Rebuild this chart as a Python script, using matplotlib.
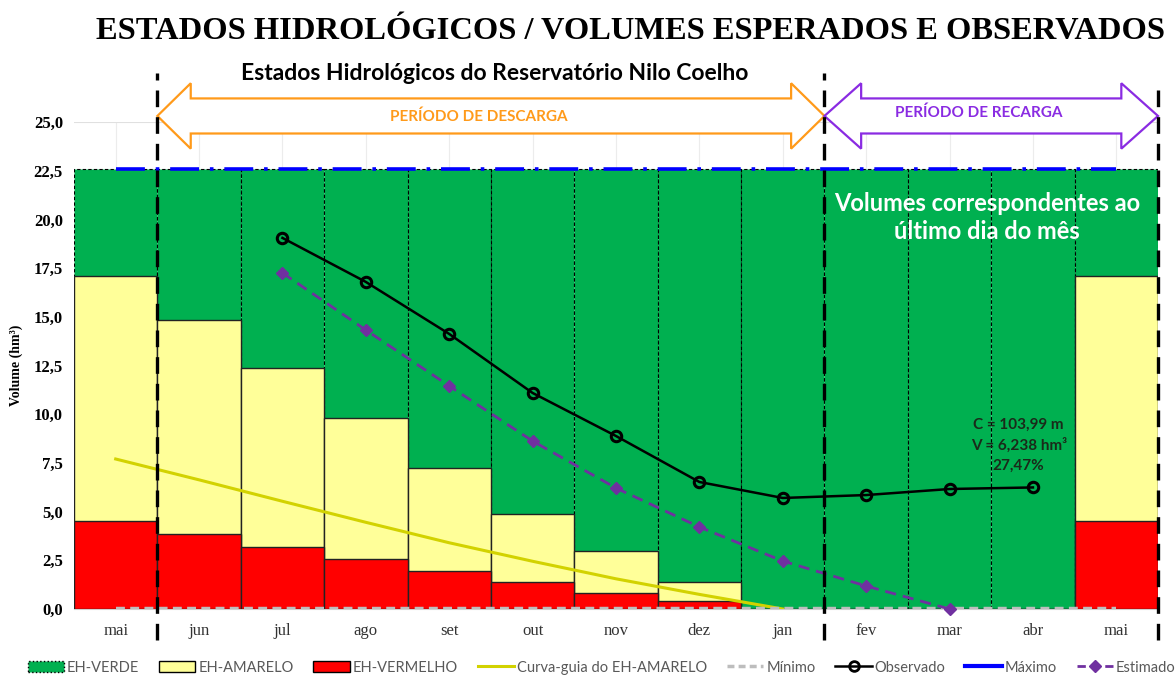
import matplotlib
matplotlib.use("Agg")
import matplotlib.pyplot as plt
import numpy as np
from matplotlib.patches import Polygon, Patch
from matplotlib.lines import Line2D
import matplotlib.transforms as mtransforms

# ---------------- data ----------------
months = ["mai", "jun", "jul", "ago", "set", "out", "nov", "dez", "jan", "fev", "mar", "abr", "mai"]
eh_verde = [22.6] * 13
eh_amarelo = [17.09, 14.84, 12.37, 9.80, 7.24, 4.88, 2.98, 1.39, 0.0, 0.0, 0.0, 0.0, 17.09]
eh_vermelho = [4.52, 3.85, 3.18, 2.57, 1.95, 1.39, 0.82, 0.41, 0.0, 0.0, 0.0, 0.0, 4.52]
curva_guia = [7.70, 6.63, 5.53, 4.45, 3.40, 2.45, 1.55, 0.75, 0.0]
minimo = [0.0] * 13
maximo = [22.6] * 13
observado_idx = [2, 3, 4, 5, 6, 7, 8, 9, 10, 11]
observado = [19.05, 16.79, 14.12, 11.09, 8.88, 6.52, 5.70, 5.85, 6.16, 6.24]
estimado_idx = [2, 3, 4, 5, 6, 7, 8, 9, 10]
estimado = [17.25, 14.32, 11.45, 8.62, 6.21, 4.21, 2.46, 1.18, 0.0]
yticks = [0.0, 2.5, 5.0, 7.5, 10.0, 12.5, 15.0, 17.5, 20.0, 22.5, 25.0]

GREEN = "#00B050"
YELLOW = "#FFFF99"
RED = "#FF0000"
CURVE = "#D2D200"
PURPLE = "#7030A0"
ORANGE = "#FF9A1A"
BLUE = "#0000FF"
GRAY = "#BDBDBD"
VIOLET = "#8A2BE2"

SANS = ["Lato", "DejaVu Sans"]
SERIF = ["Liberation Serif", "DejaVu Serif"]

fig = plt.figure(figsize=(11.75, 6.77), dpi=100)
ax = fig.add_axes([74 / 1175, 1 - 609 / 677, (1158 - 74) / 1175, (609 - 122) / 677])
x = np.arange(len(months))

# grid
for xi in x:
    ax.axvline(xi, color="#ECECEC", lw=0.8, zorder=0)
ax.axhline(25.0, color="#E0E0E0", lw=0.8, zorder=0)

# bars (overlapping)
ax.bar(x, eh_verde, width=1.0, color=GREEN, edgecolor="black", lw=0.8,
       linestyle=(0, (3, 2)), zorder=1)
ax.bar(x, eh_amarelo, width=1.0, color=YELLOW, edgecolor="#222222", lw=1.0, zorder=2)
ax.bar(x, eh_vermelho, width=1.0, color=RED, edgecolor="#222222", lw=1.0, zorder=3)

# lines
ax.plot(x[:len(curva_guia)], curva_guia, color=CURVE, lw=2.2, zorder=4)
ax.plot(x, minimo, color=GRAY, lw=3.2, linestyle=(0, (2, 1.2)), zorder=4)
ax.plot(x, maximo, color=BLUE, lw=2.6, linestyle=(0, (8, 3, 1, 3)), zorder=4)
ax.plot(observado_idx, observado, color="black", lw=1.8, marker="o", ms=7.5,
        mfc="none", mec="black", mew=2.2, zorder=6)
ax.plot(estimado_idx, estimado, color=PURPLE, lw=2.0, linestyle=(0, (4, 2.5)),
        marker="D", ms=6, mfc=PURPLE, mec=PURPLE, zorder=5, clip_on=False)

ax.set_xlim(-0.5, 12.5)
ax.set_ylim(0, 25)
ax.set_yticks(yticks)
ax.set_yticklabels([f"{v:.1f}".replace(".", ",") for v in yticks],
                   fontfamily=SERIF, fontweight="bold", fontsize=12)
ax.set_xticks(x)
ax.set_xticklabels(months, fontfamily=SERIF, fontsize=12, color="#333333")
ax.tick_params(axis="both", length=0, pad=8)
ax.tick_params(axis="x", pad=10)
for s in ["top", "right", "left"]:
    ax.spines[s].set_visible(False)
ax.spines["bottom"].set_color("#D0D0D0")
ax.set_ylabel("Volume (hm³)", fontfamily=SERIF, fontweight="bold", fontsize=10, labelpad=8)

# vertical dashed separators
trans = mtransforms.blended_transform_factory(ax.transData, ax.transAxes)
for xv, ytop in [(0.5, 1.10), (8.5, 1.10), (12.5, 1.08)]:
    ax.plot([xv, xv], [-0.064, ytop], color="black", lw=2.4, linestyle=(0, (5, 3)),
            transform=trans, clip_on=False, zorder=8)

# double arrows
def dbl_arrow(x0, x1, color, head_len):
    yc, hh, sh = 25.31, 1.68, 0.9
    pts = [(x0, yc), (x0 + head_len, yc + hh), (x0 + head_len, yc + sh),
           (x1 - head_len, yc + sh), (x1 - head_len, yc + hh), (x1, yc),
           (x1 - head_len, yc - hh), (x1 - head_len, yc - sh),
           (x0 + head_len, yc - sh), (x0 + head_len, yc - hh)]
    p = Polygon(pts, closed=True, facecolor="white", edgecolor=color, lw=1.6,
                clip_on=False, zorder=7)
    ax.add_patch(p)

dbl_arrow(0.5, 8.5, ORANGE, 0.4)
dbl_arrow(8.5, 12.5, VIOLET, 0.44)
ax.text(4.35, 25.25, "PERÍODO DE DESCARGA", color=ORANGE, fontfamily=SANS,
        fontweight="bold", fontsize=11, ha="center", va="center", zorder=9)
ax.text(10.35, 25.45, "PERÍODO DE RECARGA", color=VIOLET, fontfamily=SANS,
        fontweight="bold", fontsize=11, ha="center", va="center", zorder=9)

# texts
ax.text(10.45, 20.1, "Volumes correspondentes ao\núltimo dia do mês", color="white",
        fontfamily=SANS, fontweight="bold", fontsize=17, ha="center", va="center",
        linespacing=1.25, zorder=9)
ax.text(10.83, 8.4, "C = 103,99 m\nV = 6,238 hm³\n27,47%", color="#1a2a1a",
        fontfamily=SANS, fontweight="bold", fontsize=11, ha="center", va="center",
        linespacing=1.5, zorder=9)

fig.text(0.537, 0.953, "ESTADOS HIDROLÓGICOS / VOLUMES ESPERADOS E OBSERVADOS",
         fontfamily=SERIF, fontweight="bold", fontsize=23.4, ha="center", va="center")
fig.text(0.421, 0.892, "Estados Hidrológicos do Reservatório Nilo Coelho",
         fontfamily=SANS, fontweight="bold", fontsize=16.5, ha="center", va="center")

# legend
handles = [
    Patch(facecolor=GREEN, edgecolor="black", linestyle=":", lw=1.0),
    Patch(facecolor=YELLOW, edgecolor="black", lw=1.0),
    Patch(facecolor=RED, edgecolor="black", lw=1.0),
    Line2D([], [], color=CURVE, lw=2.2),
    Line2D([], [], color=GRAY, lw=2.5, linestyle=(0, (2, 1.2))),
    Line2D([], [], color="black", lw=1.8, marker="o", ms=7, mfc="none", mew=2),
    Line2D([], [], color=BLUE, lw=3),
    Line2D([], [], color=PURPLE, lw=2, linestyle=(0, (3, 2)), marker="D", ms=6),
]
labels = ["EH-VERDE", "EH-AMARELO", "EH-VERMELHO", "Curva-guia do EH-AMARELO",
          "Mínimo", "Observado", "Máximo", "Estimado"]
leg = fig.legend(handles, labels, loc="center", bbox_to_anchor=(0.512, 0.014),
                 ncol=8, frameon=False, handlelength=2.5, handleheight=0.8,
                 columnspacing=1.35, handletextpad=0.2, borderpad=0.0,
                 prop={"family": SANS, "size": 10.5})
for t in leg.get_texts():
    t.set_color("#595959")

fig.savefig("out.png", dpi=100)
